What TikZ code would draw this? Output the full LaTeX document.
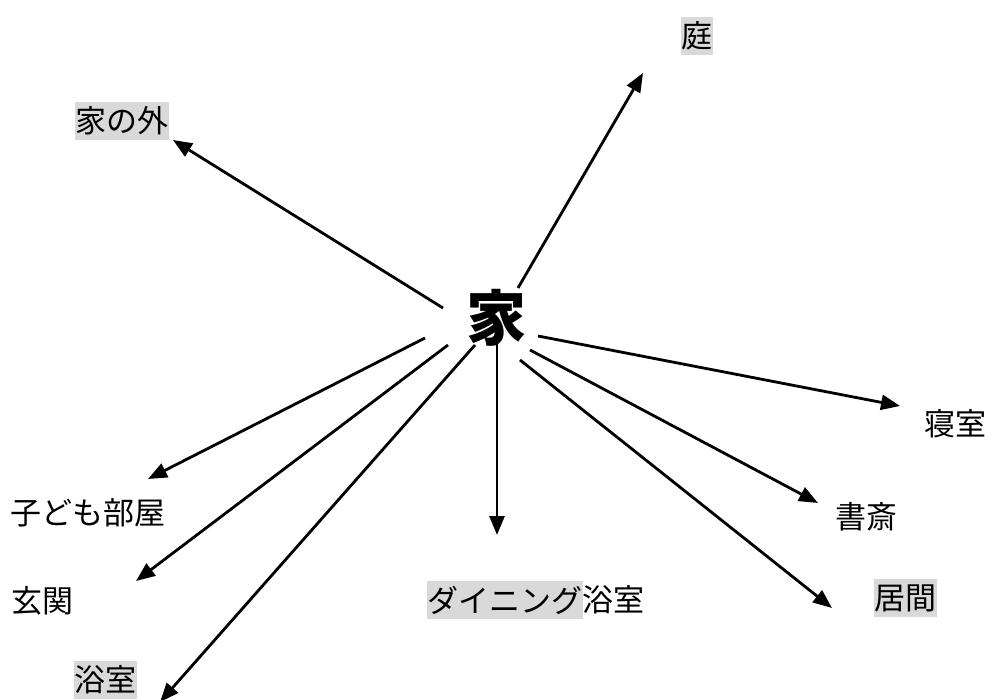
\documentclass[tikz,border=0pt]{standalone}
\usepackage{fontspec}
\usepackage{tikz}
\usepackage{xcolor}
\usetikzlibrary{positioning, arrows.meta}
\newfontfamily\cjk{Noto Sans CJK JP}
\newfontfamily\cjkheavy{Noto Sans CJK JP Black}
\definecolor{hilite}{HTML}{D9D9D9}
\tikzset{
  room/.style={font=\cjk\fontsize{31}{33}\selectfont, inner xsep=0.5pt, inner ysep=5pt},
  roomhl/.style={room, fill=hilite},
  link/.style={line width=2.8pt, -{Triangle[length=19pt,width=15pt]}}
}

\begin{document}
\begin{tikzpicture}[x=1pt,y=-1pt]
\useasboundingbox (0,0) rectangle (1003,700);
% centre word
\node[font=\cjkheavy\fontsize{60}{62}\selectfont, inner sep=0pt] (home) at (496,318) {家};
% rooms
\node[roomhl] (garden) at (697,36) {庭};
\node[roomhl] (outside) at (122,121) {家の外};
\node[room] (bedroom) at (955,424) {寝室};
\node[room] (study) at (866,517) {書斎};
\node[roomhl] (living) at (905,598) {居間};
\node[roomhl] (dining) at (505,600) {ダイニング};
\node[room, right=-1pt of dining] (bath2) {浴室};
\node[room] (kids) at (88,513) {子ども部屋};
\node[room] (entrance) at (43,601) {玄関};
\node[roomhl] (bath) at (105,680) {浴室};
% arrow ends
\coordinate (s1) at (518,288); \coordinate (t1) at (643,73);
\coordinate (s2) at (443,308); \coordinate (t2) at (173,140);
\coordinate (s3) at (538,336); \coordinate (t3) at (900,406);
\coordinate (s4) at (530,350); \coordinate (t4) at (818,503);
\coordinate (s5) at (520,360); \coordinate (t5) at (832,608);
\coordinate (s6) at (497,343); \coordinate (t6) at (497,535);
\coordinate (s7) at (425,338); \coordinate (t7) at (148,479);
\coordinate (s8) at (448,345); \coordinate (t8) at (136,581);
\coordinate (s9) at (475,345); \coordinate (t9) at (160,702);
% arrows
\draw[link] (s1) -- (t1);
\draw[link] (s2) -- (t2);
\draw[link] (s3) -- (t3);
\draw[link] (s4) -- (t4);
\draw[link] (s5) -- (t5);
\draw[link] (s6) -- (t6);
\draw[link] (s7) -- (t7);
\draw[link] (s8) -- (t8);
\draw[link] (s9) -- (t9);
\end{tikzpicture}
\end{document}
